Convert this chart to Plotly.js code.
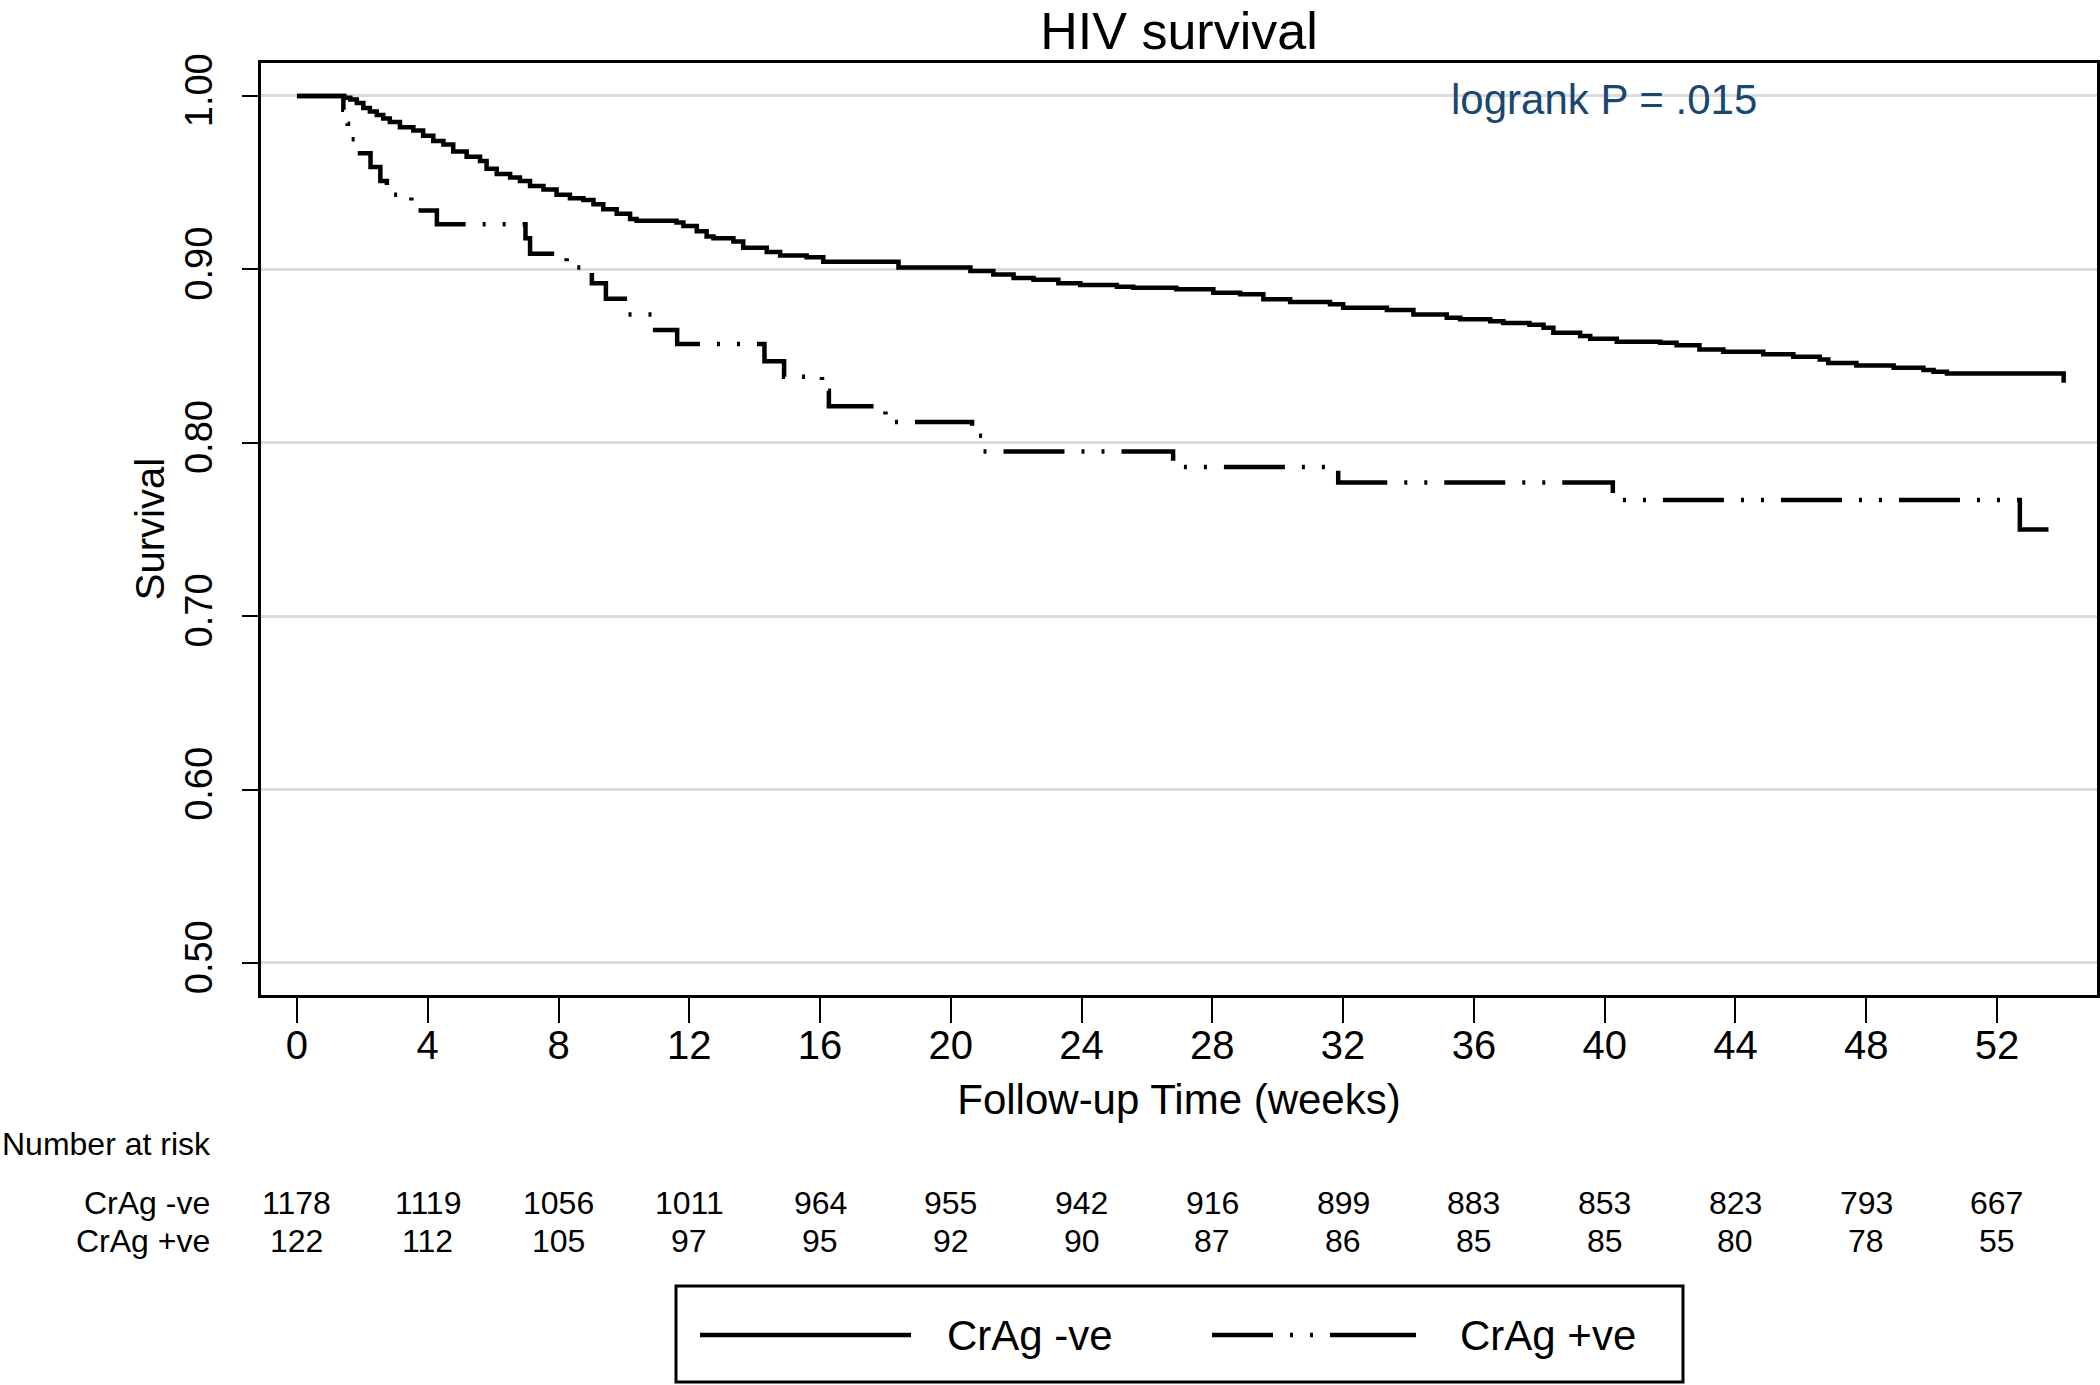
<!DOCTYPE html>
<html>
<head>
<meta charset="utf-8">
<script src="https://cdn.plot.ly/plotly-3.0.1.min.js"></script>
<style>
  html, body { margin: 0; padding: 0; background: #ffffff; }
  #chart { width: 2100px; height: 1385px; }
</style>
</head>
<body>
<div id="chart"></div>
<script>
// ---- Data ----
// CrAg -ve Kaplan-Meier curve: times (weeks) and survival after each step
const negTime = [0, 1.45, 1.63, 1.83, 2.03, 2.23, 2.44, 2.64, 2.84, 3.15,
  3.56, 3.86, 4.17, 4.48, 4.78, 5.19, 5.60, 5.80, 6.11, 6.52,
  6.82, 7.13, 7.54, 7.94, 8.35, 8.76, 9.07, 9.37, 9.78, 10.19,
  10.39, 11.61, 11.82, 12.23, 12.53, 12.74, 13.35, 13.65, 14.37, 14.78,
  15.59, 16.1, 18.4, 20.6, 21.30, 21.92, 22.53, 23.29, 23.96, 25.08,
  25.58, 26.9, 28.03, 28.85, 29.56, 30.38, 31.6, 32.0, 33.34, 34.15,
  35.17, 35.58, 36.5, 36.9, 37.7, 38.13, 38.43, 39.25, 39.56, 40.37,
  41.7, 42.2, 42.9, 43.63, 44.85, 45.77, 46.58, 46.84, 47.7, 48.84,
  49.75, 50.06, 50.47, 54.04];
const negSurv = [1.0, 0.999, 0.998, 0.996, 0.993, 0.991, 0.989, 0.987, 0.985, 0.982,
  0.980, 0.977, 0.974, 0.972, 0.968, 0.965, 0.9625, 0.958, 0.955, 0.953,
  0.951, 0.948, 0.946, 0.943, 0.941, 0.940, 0.9375, 0.9346, 0.932, 0.929,
  0.928, 0.927, 0.925, 0.922, 0.919, 0.918, 0.916, 0.9125, 0.910, 0.908,
  0.907, 0.9044, 0.901, 0.899, 0.897, 0.895, 0.894, 0.892, 0.891, 0.890,
  0.8894, 0.8885, 0.8865, 0.8856, 0.8827, 0.8812, 0.8798, 0.8779, 0.8765, 0.874,
  0.8721, 0.8712, 0.870, 0.869, 0.868, 0.8663, 0.8635, 0.8615, 0.860, 0.8583,
  0.8577, 0.8562, 0.8538, 0.8525, 0.851, 0.8496, 0.848, 0.846, 0.8446, 0.8433,
  0.842, 0.841, 0.840, 0.8346];

// CrAg +ve Kaplan-Meier curve
const posTime = [0, 1.42, 1.55, 1.65, 1.8, 2.25, 2.55, 2.75, 3.5, 4.28,
  6.99, 7.13, 8.25, 9.02, 9.45, 10.1, 10.88, 11.63, 14.3, 14.9,
  16.06, 16.27, 18.0, 20.65, 20.97, 26.8, 31.85, 40.25, 52.7, 53.7];
const posSurv = [1.0, 0.992, 0.984, 0.975, 0.967, 0.959, 0.951, 0.943, 0.934, 0.926,
  0.918, 0.909, 0.901, 0.892, 0.883, 0.874, 0.865, 0.857, 0.847, 0.838,
  0.830, 0.821, 0.812, 0.804, 0.795, 0.786, 0.777, 0.767, 0.750, 0.750];

// Axis ticks
const xTicks = [0, 4, 8, 12, 16, 20, 24, 28, 32, 36, 40, 44, 48, 52];
const yTicks = [0.5, 0.6, 0.7, 0.8, 0.9, 1.0];
const yTickText = ["0.50", "0.60", "0.70", "0.80", "0.90", "1.00"];

// Number at risk table
const riskLabels = ["CrAg -ve", "CrAg +ve"];
const riskNeg = [1178, 1119, 1056, 1011, 964, 955, 942, 916, 899, 883, 853, 823, 793, 667];
const riskPos = [122, 112, 105, 97, 95, 92, 90, 87, 86, 85, 85, 80, 78, 55];

// Series names
const seriesNames = ["CrAg -ve", "CrAg +ve"];

// ---- Styling ----
const FONT = "Liberation Sans, Arial, Helvetica, sans-serif";
const DASHDOT = "61px,17px,3px,17px,3px,17px";

const traces = [
  {
    x: negTime, y: negSurv, type: "scatter", mode: "lines",
    name: seriesNames[0],
    line: { shape: "hv", color: "#000000", width: 4.5 },
    showlegend: false, hoverinfo: "x+y"
  },
  {
    x: posTime, y: posSurv, type: "scatter", mode: "lines",
    name: seriesNames[1],
    line: { shape: "hv", color: "#000000", width: 4.5, dash: DASHDOT },
    showlegend: false, hoverinfo: "x+y"
  }
];

// Geometry helpers (paper coordinates of the plot area: l=261, r=2097, t=63, b=995)
const L = 261, R = 2097, T = 63, B = 995;
const px = v => (v - L) / (R - L);
const py = v => (B - v) / (B - T);

const annotations = [];

// logrank text
annotations.push({
  text: "logrank P = .015", xref: "paper", yref: "paper",
  x: px(1604), y: py(100), xanchor: "center", yanchor: "middle",
  showarrow: false, font: { family: FONT, size: 42, color: "#1a476f" }
});

// Number at risk header
annotations.push({
  text: "Number at risk", xref: "paper", yref: "paper",
  x: px(0), y: py(1144), xanchor: "left", yanchor: "middle",
  showarrow: false, font: { family: FONT, size: 32, color: "#000000" }
});

// Risk rows
const rowY = [py(1203), py(1241)];
const rowVals = [riskNeg, riskPos];
riskLabels.forEach((lab, r) => {
  annotations.push({
    text: lab, xref: "paper", yref: "paper",
    x: px(212), y: rowY[r], xanchor: "right", yanchor: "middle",
    showarrow: false, font: { family: FONT, size: 32, color: "#000000" }
  });
  rowVals[r].forEach((v, i) => {
    annotations.push({
      text: String(v), xref: "x", yref: "paper",
      x: xTicks[i], y: rowY[r], xanchor: "center", yanchor: "middle",
      showarrow: false, font: { family: FONT, size: 32, color: "#000000" }
    });
  });
});

// Legend labels
annotations.push({
  text: seriesNames[0], xref: "paper", yref: "paper",
  x: px(945), y: py(1335), xanchor: "left", yanchor: "middle",
  showarrow: false, font: { family: FONT, size: 42, color: "#000000" }
});
annotations.push({
  text: seriesNames[1], xref: "paper", yref: "paper",
  x: px(1458), y: py(1335), xanchor: "left", yanchor: "middle",
  showarrow: false, font: { family: FONT, size: 42, color: "#000000" }
});

const shapes = [
  // legend box
  { type: "rect", xref: "paper", yref: "paper",
    x0: px(676), x1: px(1683), y0: py(1286), y1: py(1382),
    line: { color: "#000000", width: 3 }, fillcolor: "rgba(0,0,0,0)" },
  // legend sample lines
  { type: "line", xref: "paper", yref: "paper",
    x0: px(700), x1: px(911), y0: py(1335), y1: py(1335),
    line: { color: "#000000", width: 4.5 } },
  { type: "line", xref: "paper", yref: "paper",
    x0: px(1212), x1: px(1416), y0: py(1335), y1: py(1335),
    line: { color: "#000000", width: 4.5, dash: "61px,17px,3px,17px,3px,17px,90px" } }
];

const layout = {
  width: 2100, height: 1385,
  paper_bgcolor: "#ffffff", plot_bgcolor: "#ffffff",
  font: { family: FONT, color: "#000000" },
  margin: { l: L, r: 2100 - R, t: T, b: 1385 - B, pad: 0 },
  showlegend: false,
  title: {
    text: "HIV survival",
    font: { family: FONT, size: 52, color: "#000000" },
    xref: "paper", x: 0.5, xanchor: "center",
    yref: "container", y: 1 - 31 / 1385, yanchor: "middle"
  },
  xaxis: {
    range: [-1.1, 55.06],
    tickvals: xTicks,
    ticktext: xTicks.map(String),
    ticks: "outside", ticklen: 25, tickwidth: 2, tickcolor: "#000000",
    ticklabelstandoff: -12,
    tickfont: { family: FONT, size: 40, color: "#000000" },
    showline: true, mirror: true, linewidth: 3, linecolor: "#000000",
    showgrid: false, zeroline: false,
    title: { text: "Follow-up Time (weeks)", font: { family: FONT, size: 42, color: "#000000" }, standoff: 19 }
  },
  yaxis: {
    range: [0.4815, 1.019],
    tickvals: yTicks,
    ticktext: yTickText,
    tickangle: -90,
    ticks: "outside", ticklen: 16, tickwidth: 2, tickcolor: "#000000",
    ticklabelstandoff: 15,
    tickfont: { family: FONT, size: 38, color: "#000000" },
    showline: true, mirror: true, linewidth: 3, linecolor: "#000000",
    showgrid: true, gridcolor: "#dcdcdc", gridwidth: 3, zeroline: false,
    title: { text: "Survival", font: { family: FONT, size: 40, color: "#000000" }, standoff: 1 }
  },
  annotations: annotations,
  shapes: shapes
};

Plotly.newPlot("chart", traces, layout, { displayModeBar: false, staticPlot: true });
</script>
</body>
</html>
